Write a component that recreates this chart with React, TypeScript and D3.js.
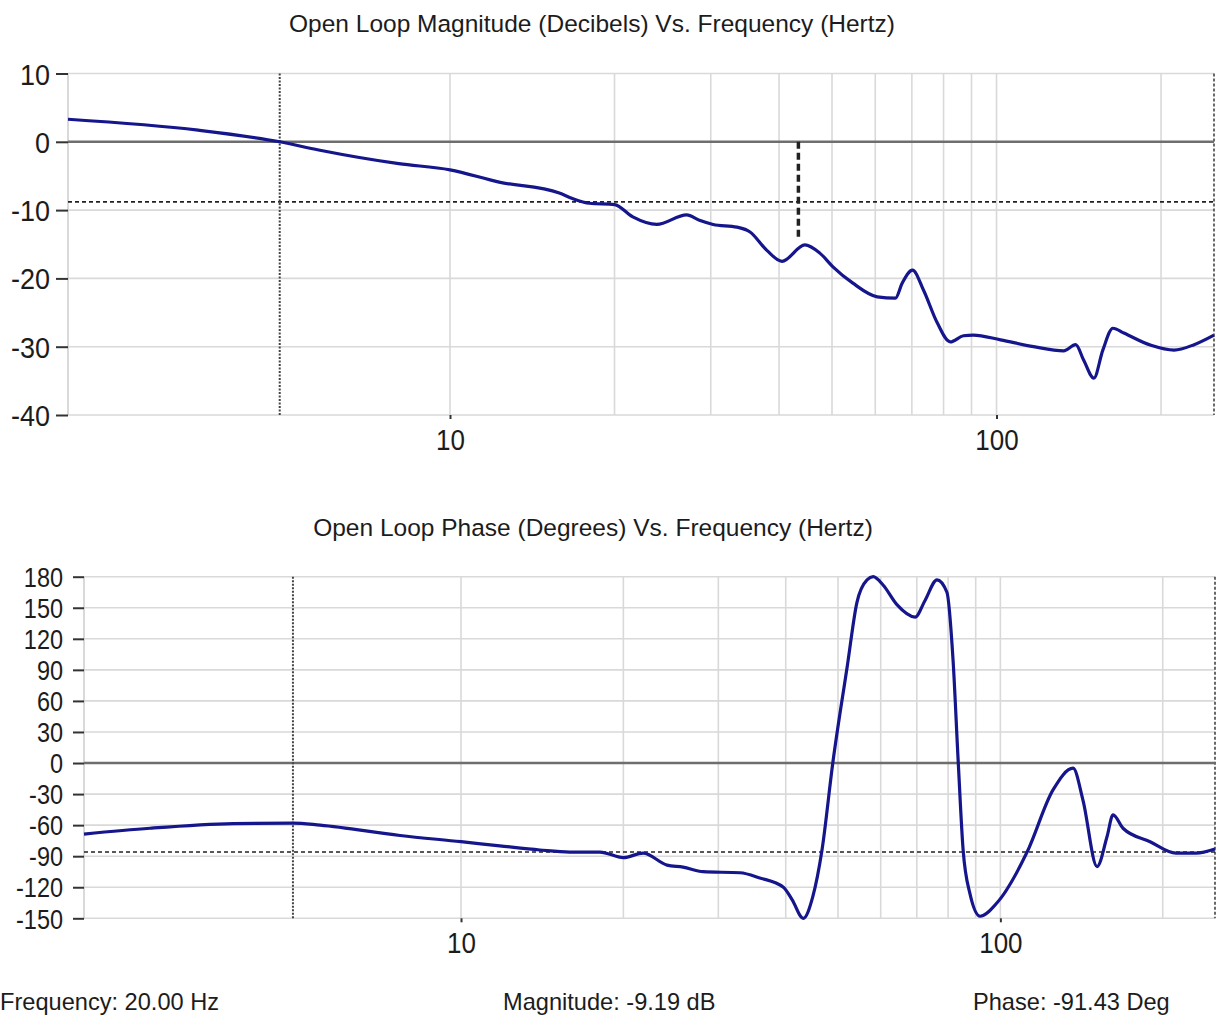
import React, { useEffect, useRef } from "react";
import * as d3 from "d3";

// Frequency range of both Bode panels (Hz)
const FREQ_MIN = 2;
const FREQ_MAX = 250;

// Open-loop magnitude response
const magFreq = [2, 3.46, 4.88, 5.75, 8.06, 10, 12.3, 15.85, 16.75, 18.0, 20, 21.6, 23.9, 27.1, 28.6, 30.3, 33.5, 35.4, 38.0, 40.5, 44.6, 47.5, 50.2, 54.6, 60.5, 65.3, 67.2, 70.2, 73.5, 77.9, 82.3, 87.0, 90.7, 101.7, 116.9, 132.7, 139.6, 144.4, 150.7, 156.5, 163.3, 171, 191.7, 211.3, 229.9, 250];
const magDb = [3.3, 1.7, 0, -1.2, -3.2, -4.1, -5.9, -7.5, -8.3, -9.0, -9.19, -11.0, -12.1, -10.7, -11.5, -12.1, -12.5, -13.2, -15.9, -17.5, -15.1, -16.3, -18.3, -20.7, -22.7, -22.9, -20.7, -18.8, -21.7, -26.5, -29.3, -28.4, -28.3, -29.0, -30.0, -30.6, -29.7, -32.0, -34.6, -30.5, -27.3, -28.0, -29.8, -30.5, -29.7, -28.3];

// Open-loop phase response
const phaseFreq = [2, 2.65, 3.78, 4.88, 5.48, 7.71, 10, 11.8, 14.0, 15.9, 18.1, 20, 21.76, 24.1, 25.8, 28.1, 32.9, 35.8, 39.6, 41.1, 43.1, 44.9, 46.7, 48.9, 52.0, 54.2, 56.6, 58.1, 60.6, 64.3, 69.5, 72.5, 76.3, 79.6, 81.7, 83.5, 85.3, 87.8, 91.7, 98.6, 112.1, 125.2, 136.4, 142.3, 151.1, 157.7, 161.8, 168.8, 189.5, 211.6, 230.6, 250];
const phaseDeg = [-68.6, -63, -58.5, -58, -60, -70, -76, -80, -84, -86, -86, -91.43, -87, -98.6, -100.5, -105, -106, -111, -120, -132, -150, -129, -84, 0, 93, 155, 177, 180, 172, 153, 141, 157, 177, 165, 100, 3, -84, -126, -148, -135, -86, -26, -5, -36, -100, -71, -50, -63, -76, -87, -87, -83];

// Axis ticks and grid
const magTicks = [10, 0, -10, -20, -30, -40];
const phaseTicks = [180, 150, 120, 90, 60, 30, 0, -30, -60, -90, -120, -150];
const freqLabelTicks = [10, 100];
const freqGrid = [10, 20, 30, 40, 50, 60, 70, 80, 90, 100, 200];

// Reference markers
const crossoverHz = 4.88;
const magRefDb = -8.8;
const phaseRefDeg = -86;
const gainMarkerHz = 43.4;
const gainMarkerDb = -14.5;

// Cursor readout
const cursorFreq = "20.00";
const cursorMag = "-9.19";
const cursorPhase = "-91.43";

const FONT = "'Liberation Sans', Arial, sans-serif";
const TEXT = "#1c1c1c";

type PanelCfg = {
  left: number;
  right: number;
  top: number;
  bottom: number;
  yDomain: [number, number];
  yTicks: number[];
  freq: number[];
  vals: number[];
  refVal: number;
  tickLen: number;
  tickPad: number;
  yFont: number;
  yScaleY: number;
  title: string;
  titleX: number;
  titleY: number;
  marker?: { f: number; v: number };
};

function drawPanel(root: d3.Selection<SVGSVGElement, unknown, null, undefined>, cfg: PanelCfg) {
  const x = d3.scaleLog().domain([FREQ_MIN, FREQ_MAX]).range([cfg.left, cfg.right]);
  const y = d3.scaleLinear().domain(cfg.yDomain).range([cfg.bottom, cfg.top]);
  const g = root.append("g");

  // horizontal grid
  g.append("g")
    .selectAll("line")
    .data(cfg.yTicks.filter((d) => d !== 0))
    .join("line")
    .attr("x1", cfg.left)
    .attr("x2", cfg.right)
    .attr("y1", (d) => y(d))
    .attr("y2", (d) => y(d))
    .attr("stroke", "#d9d9d9")
    .attr("stroke-width", 1.6);

  // vertical grid
  g.append("g")
    .selectAll("line")
    .data(freqGrid)
    .join("line")
    .attr("x1", (d) => x(d))
    .attr("x2", (d) => x(d))
    .attr("y1", cfg.top)
    .attr("y2", cfg.bottom)
    .attr("stroke", "#d9d9d9")
    .attr("stroke-width", 1.6);

  // left border
  g.append("line")
    .attr("x1", cfg.left)
    .attr("x2", cfg.left)
    .attr("y1", cfg.top)
    .attr("y2", cfg.bottom)
    .attr("stroke", "#d0d0d0")
    .attr("stroke-width", 1.6);

  // right border (dashed)
  g.append("line")
    .attr("x1", cfg.right)
    .attr("x2", cfg.right)
    .attr("y1", cfg.top)
    .attr("y2", cfg.bottom)
    .attr("stroke", "#444")
    .attr("stroke-width", 1.6)
    .attr("stroke-dasharray", "3,2");

  // zero line
  g.append("line")
    .attr("x1", cfg.left)
    .attr("x2", cfg.right)
    .attr("y1", y(0))
    .attr("y2", y(0))
    .attr("stroke", "#6e6e6e")
    .attr("stroke-width", 2.6);

  // reference level (dashed)
  g.append("line")
    .attr("x1", cfg.left)
    .attr("x2", cfg.right)
    .attr("y1", y(cfg.refVal))
    .attr("y2", y(cfg.refVal))
    .attr("stroke", "#222")
    .attr("stroke-width", 1.6)
    .attr("stroke-dasharray", "4,3");

  // crossover frequency (dotted)
  g.append("line")
    .attr("x1", x(crossoverHz))
    .attr("x2", x(crossoverHz))
    .attr("y1", cfg.top)
    .attr("y2", cfg.bottom)
    .attr("stroke", "#444")
    .attr("stroke-width", 2)
    .attr("stroke-dasharray", "2,1.5");

  // response curve
  const pts: [number, number][] = cfg.freq.map((f, i) => [f, cfg.vals[i]]);
  const line = d3
    .line<[number, number]>()
    .x((d) => x(d[0]))
    .y((d) => y(d[1]))
    .curve(d3.curveMonotoneX);
  g.append("path")
    .attr("d", line(pts) ?? "")
    .attr("fill", "none")
    .attr("stroke", "#15158c")
    .attr("stroke-width", 3.2)
    .attr("stroke-linejoin", "round");

  // gain margin marker
  if (cfg.marker) {
    g.append("line")
      .attr("x1", x(cfg.marker.f))
      .attr("x2", x(cfg.marker.f))
      .attr("y1", y(0))
      .attr("y2", y(cfg.marker.v))
      .attr("stroke", "#222")
      .attr("stroke-width", 3.5)
      .attr("stroke-dasharray", "7,4");
  }

  // y axis
  const yAxis = d3
    .axisLeft(y)
    .tickValues(cfg.yTicks)
    .tickSize(cfg.tickLen)
    .tickPadding(cfg.tickPad)
    .tickFormat((d) => String(d));
  const ya = g.append("g").attr("transform", `translate(${cfg.left},0)`).call(yAxis);
  ya.select(".domain").remove();
  ya.selectAll(".tick line").attr("stroke", "#333").attr("stroke-width", 2);
  ya.selectAll(".tick text")
    .attr("font-family", FONT)
    .attr("font-size", cfg.yFont)
    .attr("fill", TEXT)
    .attr("dy", "0.35em")
    .attr("transform", `scale(1,${cfg.yScaleY})`);

  // x axis
  const xAxis = d3
    .axisBottom(x)
    .tickValues(freqLabelTicks)
    .tickSize(4)
    .tickFormat((d) => String(d));
  const xa = g.append("g").attr("transform", `translate(0,${cfg.bottom})`).call(xAxis);
  xa.select(".domain").remove();
  xa.selectAll(".tick line").attr("stroke", "#333").attr("stroke-width", 2);
  xa.selectAll(".tick text")
    .attr("font-family", FONT)
    .attr("font-size", 26)
    .attr("fill", TEXT)
    .attr("y", 0)
    .attr("dy", 0)
    .attr("transform", "translate(0,35) scale(1,1.15)");

  // title
  g.append("text")
    .attr("x", cfg.titleX)
    .attr("y", cfg.titleY)
    .attr("text-anchor", "middle")
    .attr("font-family", FONT)
    .attr("font-size", 24.5)
    .attr("fill", TEXT)
    .text(cfg.title);
}

export default function App() {
  const ref = useRef<SVGSVGElement>(null);

  useEffect(() => {
    if (!ref.current) return;
    const svg = d3.select(ref.current);
    svg.selectAll("*").remove();

    drawPanel(svg, {
      left: 68,
      right: 1214,
      top: 73.5,
      bottom: 415,
      yDomain: [-40, 10],
      yTicks: magTicks,
      freq: magFreq,
      vals: magDb,
      refVal: magRefDb,
      tickLen: 12,
      tickPad: 6,
      yFont: 27,
      yScaleY: 1.12,
      title: "Open Loop Magnitude (Decibels) Vs. Frequency (Hertz)",
      titleX: 592,
      titleY: 32,
      marker: { f: gainMarkerHz, v: gainMarkerDb },
    });

    drawPanel(svg, {
      left: 84,
      right: 1215,
      top: 576.7,
      bottom: 918.3,
      yDomain: [-150, 180],
      yTicks: phaseTicks,
      freq: phaseFreq,
      vals: phaseDeg,
      refVal: phaseRefDeg,
      tickLen: 11,
      tickPad: 10,
      yFont: 23.5,
      yScaleY: 1.18,
      title: "Open Loop Phase (Degrees) Vs. Frequency (Hertz)",
      titleX: 593,
      titleY: 536,
    });

    // cursor readout
    const readouts: [number, string][] = [
      [0, `Frequency: ${cursorFreq} Hz`],
      [503, `Magnitude: ${cursorMag} dB`],
      [973, `Phase: ${cursorPhase} Deg`],
    ];
    svg
      .append("g")
      .selectAll("text")
      .data(readouts)
      .join("text")
      .attr("x", (d) => d[0])
      .attr("y", 1010)
      .attr("font-family", FONT)
      .attr("font-size", 23.6)
      .attr("fill", TEXT)
      .text((d) => d[1]);
  }, []);

  return (
    <svg
      ref={ref}
      width={1217}
      height={1026}
      style={{ position: "absolute", left: 0, top: 0, display: "block", background: "#fff" }}
    />
  );
}
